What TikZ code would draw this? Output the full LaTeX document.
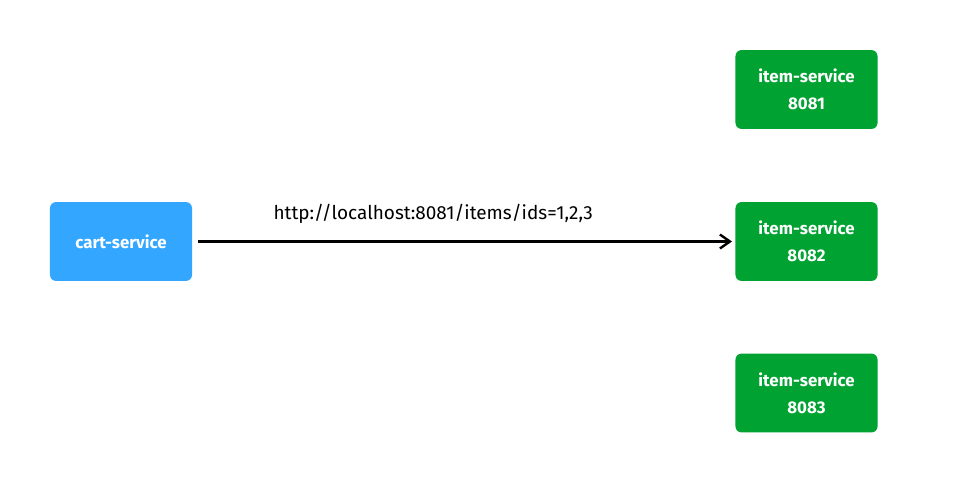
\documentclass[tikz,border=0pt]{standalone}
\usepackage{fontspec}
\setmainfont{Fira Sans}
\usetikzlibrary{arrows.meta}
\definecolor{cartblue}{HTML}{33A6FF}
\definecolor{itemgreen}{HTML}{00A232}

\begin{document}
\begin{tikzpicture}[x=0.025cm, y=-0.025cm, >={Straight Barb[length=2.5mm, width=3.5mm]},
    svc/.style={rounded corners=1.5mm, minimum width=3.55cm, minimum height=1.97cm, text=white,
      font=\fontsize{12}{19}\selectfont\bfseries, align=center, inner sep=0pt}]
        \useasboundingbox (0,0) rectangle (971,488);
        \node (cart) at (121,241.5) [svc, fill=cartblue] {cart-service};

        % Item service instances
        \node (I1) at (806.5,89.5) [svc, fill=itemgreen] {item-service\\8081};
        \node (I2) at (806.5,241.5) [svc, fill=itemgreen] {item-service\\8082};
        \node (I3) at (806.5,393) [svc, fill=itemgreen] {item-service\\8083};

        % Request
        \draw[->, line width=0.6mm] ([xshift=1.5mm]cart.east) -- ([xshift=-0.8mm]I2.west)
            node[pos=0.44, above=3mm, font=\fontsize{13.5}{16}\selectfont] {http://localhost:8081/items/ids=1,2,3};
    \end{tikzpicture}
\end{document}
